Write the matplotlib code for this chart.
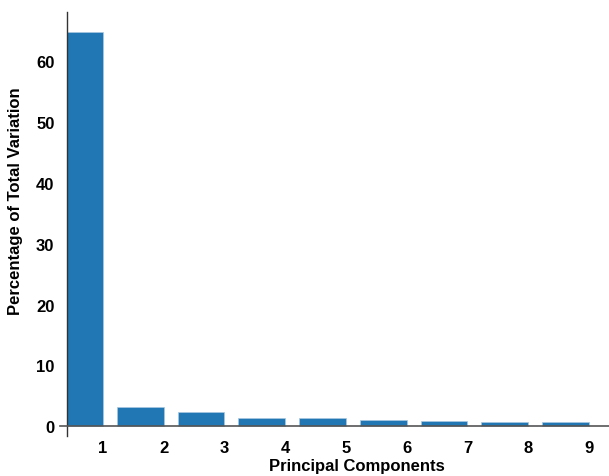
import matplotlib
matplotlib.use("Agg")
import matplotlib.pyplot as plt

components = [1, 2, 3, 4, 5, 6, 7, 8, 9]
tick_labels = ["1", "2", "3", "4", "5", "6", "7", "8", "9"]
variation = [64.8, 3.12, 2.37, 1.32, 1.27, 1.05, 0.89, 0.77, 0.61]
y_ticks = [0, 10, 20, 30, 40, 50, 60]

plt.rcParams['font.family'] = ['Liberation Sans', 'DejaVu Sans']
plt.rcParams['font.weight'] = 'bold'

fig = plt.figure(figsize=(6.09, 4.77), dpi=100)
ax = fig.add_axes([0.110, 0.084, 0.890, 0.889])

ax.bar(components, variation, width=-0.77, align='edge', color='#2077b4',
       edgecolor='#a9c8e0', linewidth=0.5, zorder=2)

ax.set_xlim(0.41, 9.33)
ax.set_ylim(-1.6, 68.1)
ax.set_xticks(components)
ax.set_xticklabels(tick_labels)
ax.set_yticks(y_ticks)
ax.tick_params(axis='both', length=0, labelsize=12)
ax.tick_params(axis='y', pad=9)
ax.tick_params(axis='x', pad=3)
for lab in ax.get_xticklabels() + ax.get_yticklabels():
    lab.set_fontweight('bold')

for s in ['top', 'right', 'bottom']:
    ax.spines[s].set_visible(False)
ax.spines['left'].set_color('#333333')
ax.spines['left'].set_linewidth(1.0)
ax.axhline(0, xmin=-0.013, xmax=1.0, color='#555555', linewidth=1.2, clip_on=False, zorder=3)

ax.set_xlabel('Principal Components', fontsize=12, fontweight='bold')
ax.xaxis.set_label_coords(0.535, -0.053)
ax.set_ylabel('Percentage of Total Variation', fontsize=12, fontweight='bold')
ax.yaxis.set_label_coords(-0.081, 0.557)

fig.savefig('out.png', dpi=100)
